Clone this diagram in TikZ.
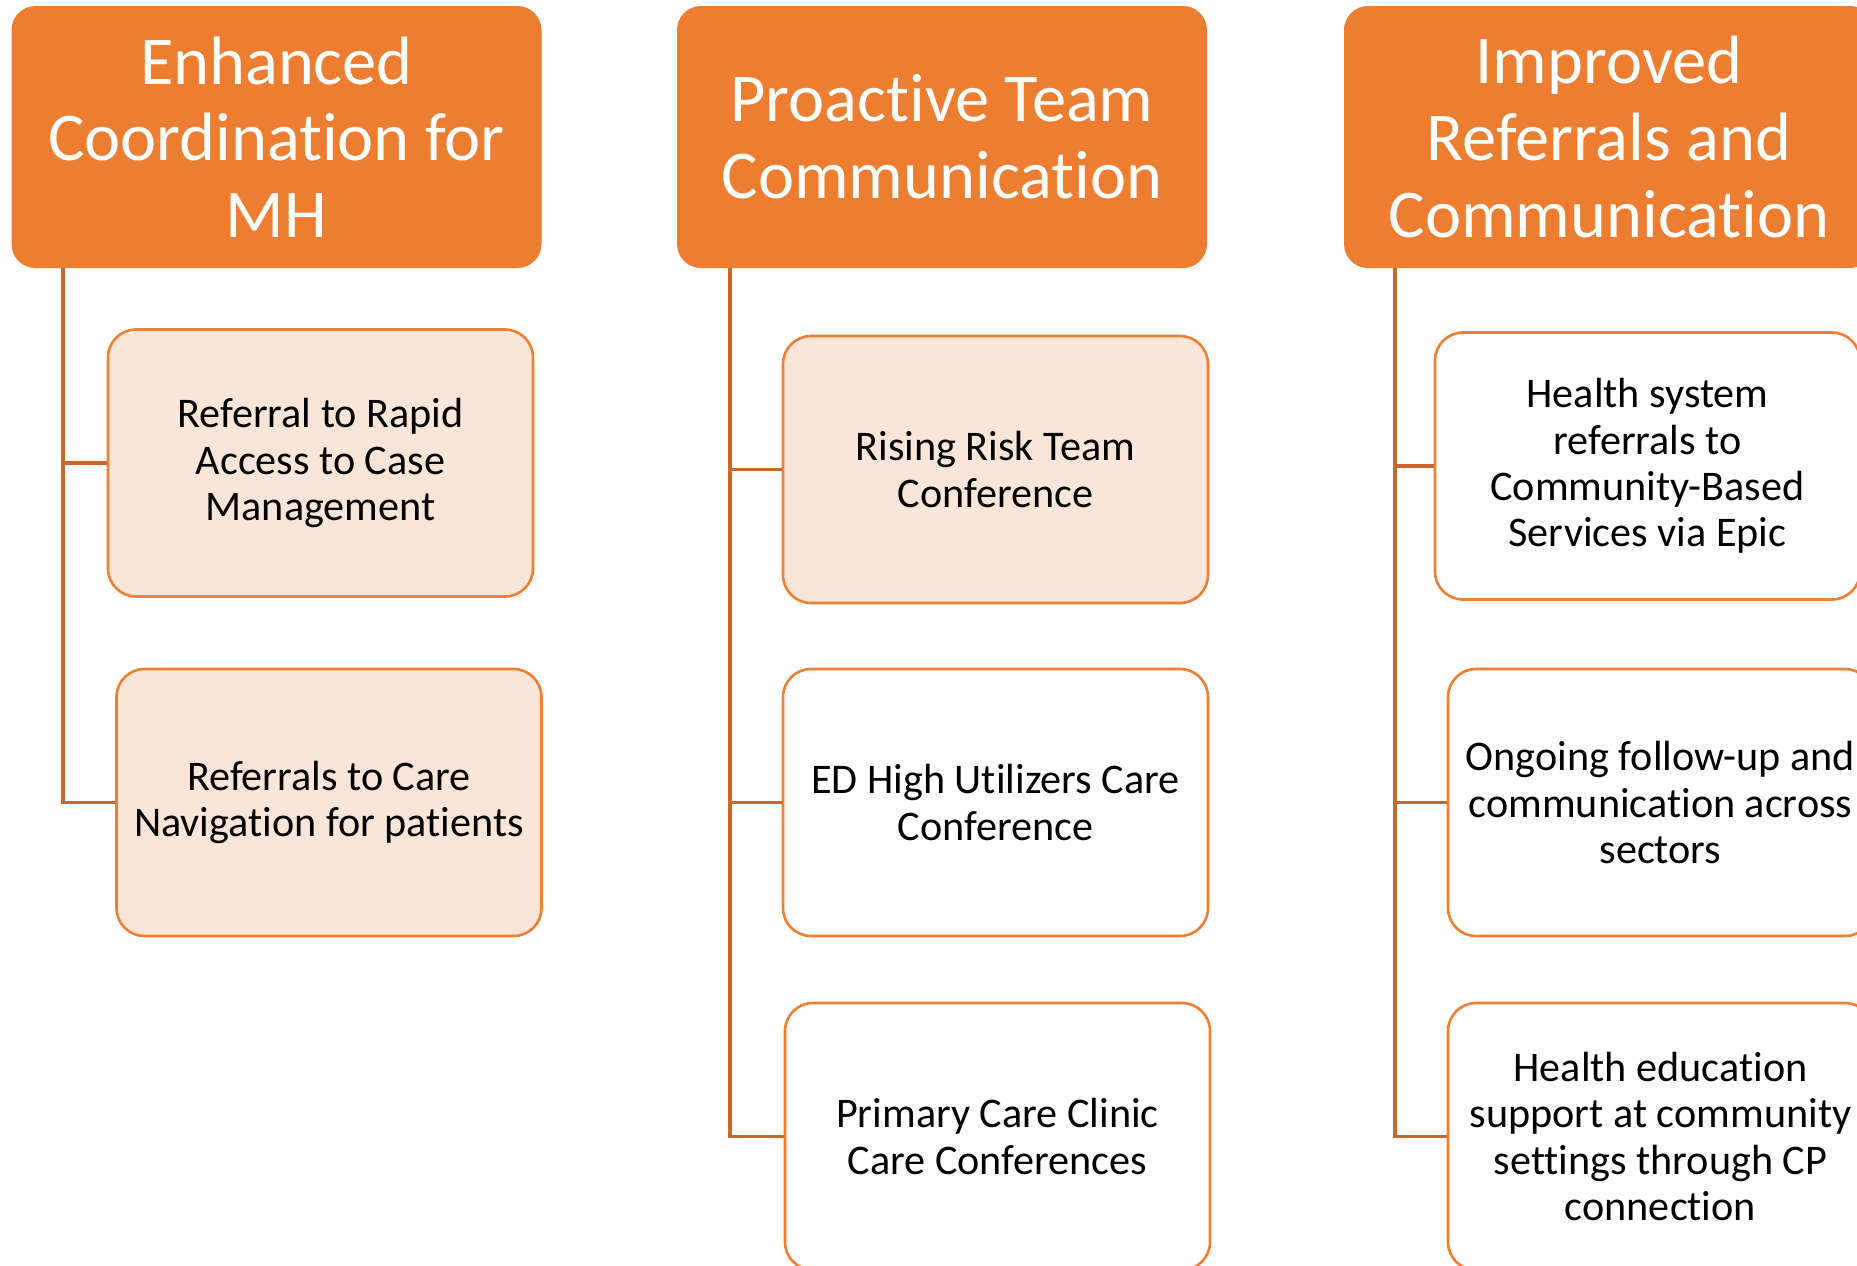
\documentclass[tikz,border=0pt]{standalone}
\usepackage{fontspec}
\setmainfont{Carlito}[Ligatures=NoCommon]
\definecolor{hdr}{HTML}{ED7D31}
\definecolor{boxline}{HTML}{EE7F33}
\definecolor{pale}{HTML}{FAE6D9}
\definecolor{conn}{HTML}{C8682E}
\tikzset{
  header/.style={rounded corners=12pt, fill=hdr, draw=none,
    text=white, align=center, inner sep=0pt,
    minimum width=265pt, minimum height=131pt,
    font=\fontsize{34.2}{38.3}\selectfont},
  item/.style={rounded corners=14pt, draw=boxline, line width=1.3pt, fill=white,
    text=black, align=center, inner sep=0pt,
    minimum width=212.5pt, minimum height=133.5pt,
    font=\fontsize{21.1}{23.1}\selectfont},
  itemfill/.style={item, fill=pale},
  link/.style={draw=conn, line width=1.6pt}
}
\begin{document}
\begin{tikzpicture}[x=0.5pt, y=-0.5pt]
\useasboundingbox (0,0) rectangle (1857,1265);
\clip (0,0) rectangle (1857,1265);

% column headers
\node[header] (h1) at (276.5,137) {Enhanced\\Coordination for\\MH};
\node[header] (h2) at (942,137) {Proactive Team\\Communication};
\node[header] (h3) at (1609,137) {Improved\\Referrals and\\Communication};

% trunk tops below each header
\coordinate (t1) at (63,268);
\coordinate (t2) at (730,268);
\coordinate (t3) at (1395,268);

% column 1
\node[itemfill] (a1) at (320.5,463) {Referral to Rapid\\Access to Case\\Management};
\node[itemfill] (a2) at (329,802.5) {Referrals to Care\\Navigation for patients};

% column 2
\node[itemfill] (b1) at (995.5,469.5) {Rising Risk Team\\Conference};
\node[item] (b2) at (995.5,802.5) {ED High Utilizers Care\\Conference};
\node[item] (b3) at (997.5,1136.5) {Primary Care Clinic\\Care Conferences};

% column 3
\node[item] (c1) at (1647.5,466) {Health system\\referrals to\\Community-Based\\Services via Epic};
\node[item] (c2) at (1660.5,802.5) {Ongoing follow-up and\\communication across\\sectors};
\node[item] (c3) at (1660.5,1136.5) {Health education\\support at community\\settings through CP\\connection};

% hierarchy connectors
\draw[link] (t1) |- (a1.west);
\draw[link] (t1) |- (a2.west);
\draw[link] (t2) |- (b1.west);
\draw[link] (t2) |- (b2.west);
\draw[link] (t2) |- (b3.west);
\draw[link] (t3) |- (c1.west);
\draw[link] (t3) |- (c2.west);
\draw[link] (t3) |- (c3.west);
\end{tikzpicture}
\end{document}
